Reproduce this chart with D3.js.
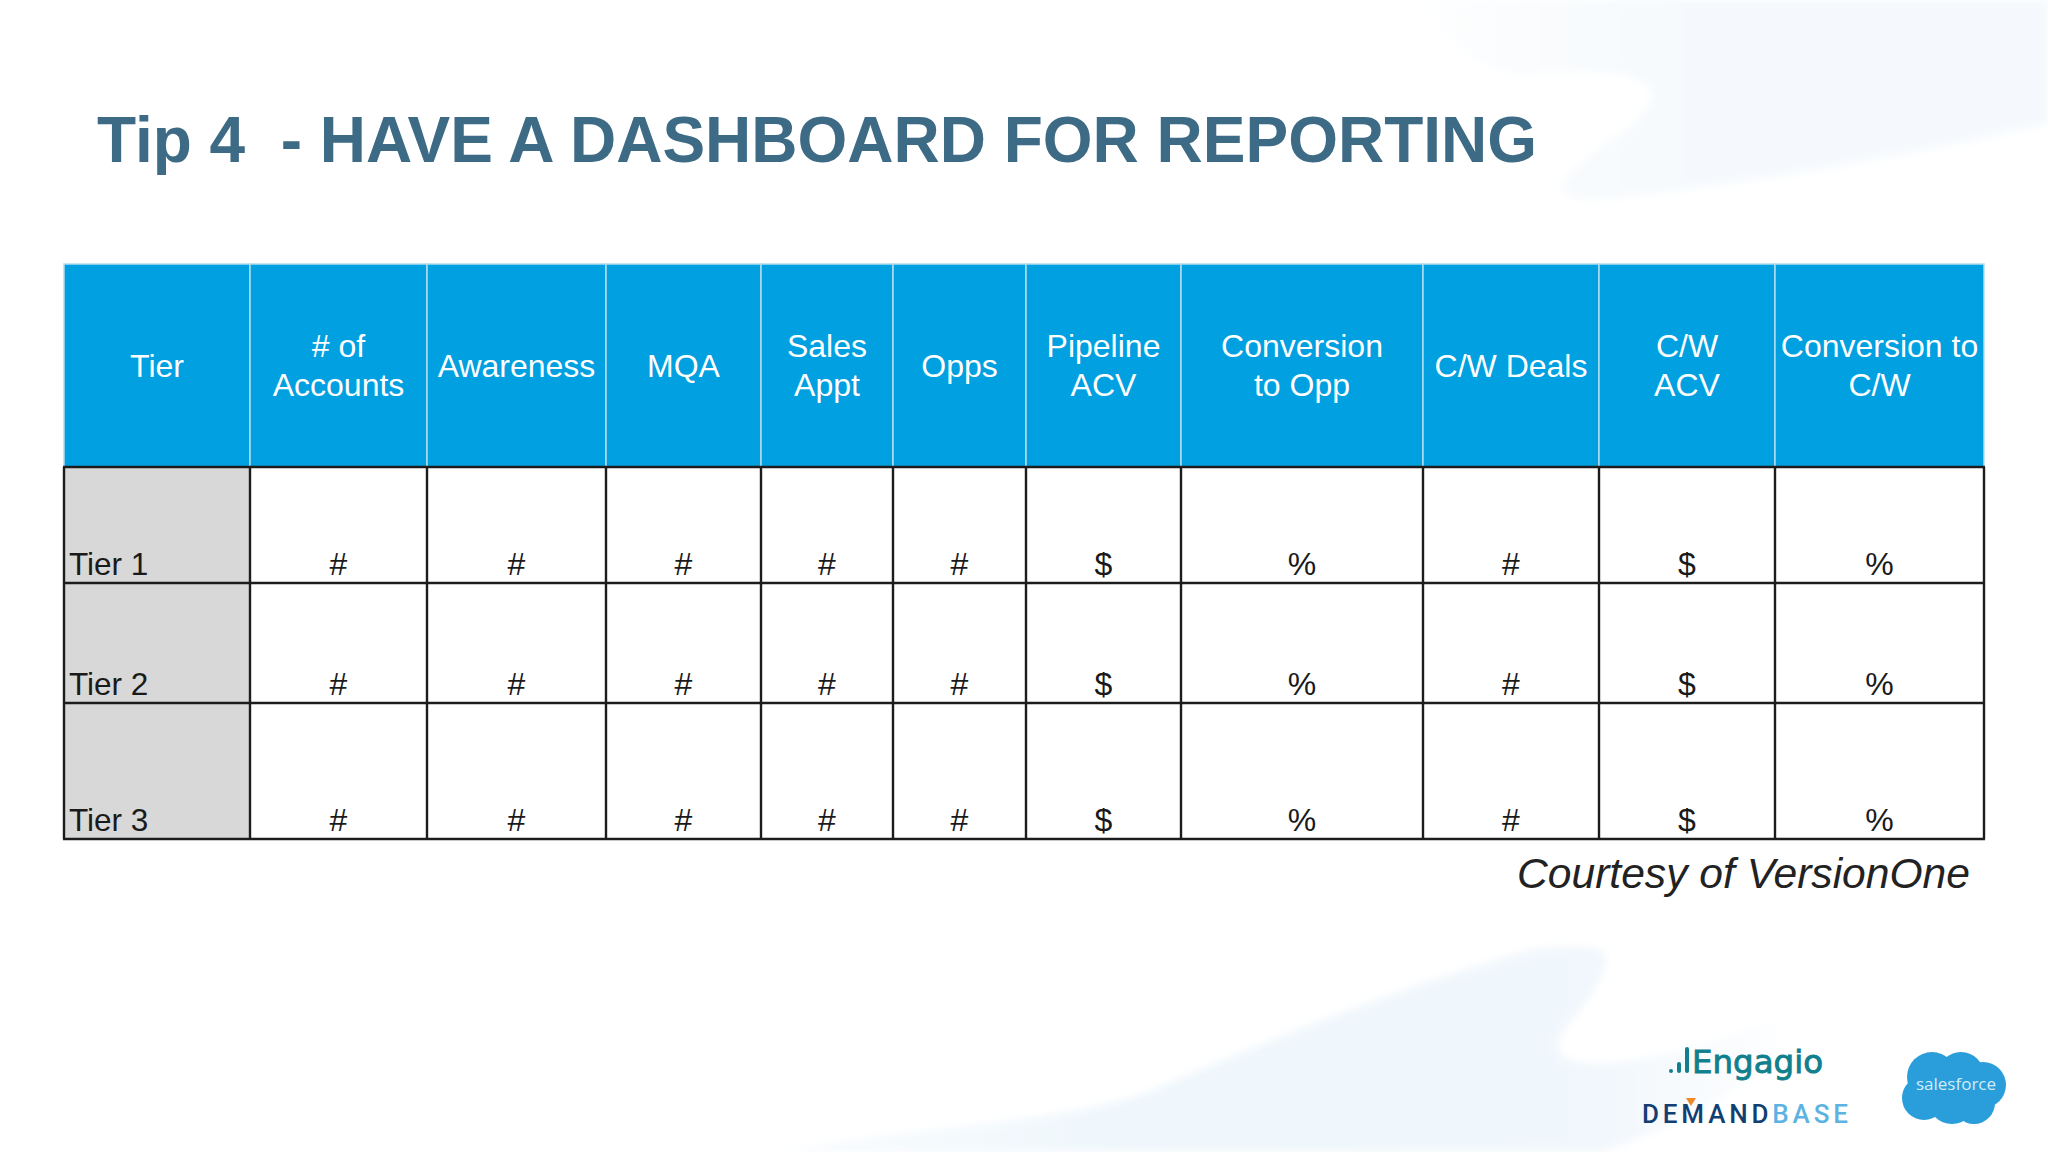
<!DOCTYPE html>
<html>
<head>
<meta charset="utf-8">
<script src="https://cdn.jsdelivr.net/npm/d3@7"></script>
<style>
  html, body { margin: 0; padding: 0; background: #fff; }
  svg { display: block; }
  text { font-family: "Liberation Sans", Arial, sans-serif; }
</style>
</head>
<body>
<svg id="slide" width="2048" height="1152"></svg>
<script>
// table content
const headers = ["Tier", "# of|Accounts", "Awareness", "MQA", "Sales|Appt", "Opps", "Pipeline|ACV", "Conversion|to Opp", "C/W Deals", "C/W|ACV", "Conversion to|C/W"];
const tiers = ["Tier 1", "Tier 2", "Tier 3"];
const tier1Cells = ["#", "#", "#", "#", "#", "$", "%", "#", "$", "%"];
const tier2Cells = ["#", "#", "#", "#", "#", "$", "%", "#", "$", "%"];
const tier3Cells = ["#", "#", "#", "#", "#", "$", "%", "#", "$", "%"];
const rowCells = [tier1Cells, tier2Cells, tier3Cells];

// layout of the grid
const colEdges = [64, 250, 427, 606, 761, 893, 1026, 1181, 1423, 1599, 1775, 1984];
const rowEdges = [467, 583, 703, 839];
const headerTop = 264;
const rowBaselines = [575, 695, 831];

const colIndex = d3.scaleLinear().domain(d3.range(colEdges.length)).range(colEdges);
const rowIndex = d3.scaleLinear().domain(d3.range(rowEdges.length)).range(rowEdges);
const colMid = i => (colIndex(i) + colIndex(i + 1)) / 2;

const svg = d3.select("#slide");

// pale swooshes in the background
const defs = svg.append("defs");
defs.append("filter").attr("id", "soft").append("feGaussianBlur").attr("stdDeviation", 4);
const bottomFade = defs.append("linearGradient").attr("id", "bottomFade")
  .attr("gradientUnits", "userSpaceOnUse").attr("x1", 783).attr("x2", 1800).attr("y1", 0).attr("y2", 0);
bottomFade.selectAll("stop").data([
  { o: 0, c: "#f8fbfe" }, { o: 0.35, c: "#eff7fc" }, { o: 0.8, c: "#f1f7fc" }, { o: 1, c: "#ffffff" }
]).join("stop").attr("offset", d => d.o).attr("stop-color", d => d.c);
const topFade = defs.append("linearGradient").attr("id", "topFade")
  .attr("gradientUnits", "userSpaceOnUse").attr("x1", 1400).attr("x2", 1700).attr("y1", 0).attr("y2", 0);
topFade.selectAll("stop").data([
  { o: 0, c: "#ffffff" }, { o: 0.6, c: "#f8fbfd" }, { o: 1, c: "#f5f9fd" }
]).join("stop").attr("offset", d => d.o).attr("stop-color", d => d.c);

const swooshes = [
  { d: "M1420,0 C1440,40 1480,70 1520,75 C1590,68 1640,72 1652,90 C1660,120 1575,155 1561,185 C1560,205 1600,202 1680,190 C1800,175 1930,150 2048,124 L2048,0 Z", fill: "url(#topFade)" },
  { d: "M783,1152 C900,1128 1050,1125 1146,1093 C1274,1037 1401,987 1529,950 C1560,945 1606,945 1606,955 C1606,990 1558,1030 1558,1043 C1560,1075 1620,1065 1700,1047 L1770,1020 C1820,1050 1700,1120 1600,1152 Z", fill: "url(#bottomFade)" }
];
svg.append("g").attr("filter", "url(#soft)")
  .selectAll("path").data(swooshes).join("path")
  .attr("d", d => d.d).attr("fill", d => d.fill);

// title
svg.append("text").attr("x", 97).attr("y", 162)
  .attr("font-size", 64).attr("font-weight", 700).attr("fill", "#3d6b85")
  .style("white-space", "pre")
  .text("Tip 4  - HAVE A DASHBOARD FOR REPORTING");

// header band
const head = svg.append("g");
head.selectAll("rect").data(headers).join("rect")
  .attr("x", (d, i) => colIndex(i)).attr("y", headerTop)
  .attr("width", (d, i) => colIndex(i + 1) - colIndex(i))
  .attr("height", rowIndex(0) - headerTop)
  .attr("fill", "#00a0e1").attr("stroke", "#b4dbee").attr("stroke-width", 1.5);

const headText = head.selectAll("text").data(headers).join("text")
  .attr("text-anchor", "middle").attr("font-size", 32).attr("fill", "#fff");
headText.each(function (d, i) {
  const lines = d.split("|");
  d3.select(this).selectAll("tspan").data(lines).join("tspan")
    .attr("x", colMid(i))
    .attr("y", (l, j) => lines.length === 1 ? 377 : 357 + j * 38.5)
    .text(l => l);
});

// tier column
const body = svg.append("g");
body.selectAll("rect.tier").data(tiers).join("rect").attr("class", "tier")
  .attr("x", colIndex(0)).attr("y", (d, i) => rowIndex(i))
  .attr("width", colIndex(1) - colIndex(0))
  .attr("height", (d, i) => rowIndex(i + 1) - rowIndex(i))
  .attr("fill", "#d8d8d8");
body.selectAll("text.tier").data(tiers).join("text").attr("class", "tier")
  .attr("x", 69).attr("y", (d, i) => rowBaselines[i])
  .attr("font-size", 31.5).attr("fill", "#1a1a1a").text(d => d);

// body cells
rowCells.forEach((cells, r) => {
  body.append("g").selectAll("text").data(cells).join("text")
    .attr("x", (d, i) => colMid(i + 1)).attr("y", rowBaselines[r])
    .attr("text-anchor", "middle").attr("font-size", 32).attr("fill", "#1a1a1a")
    .text(d => d);
});

// grid lines
const grid = svg.append("g").attr("stroke", "#1c1c1c").attr("stroke-width", 2.4);
grid.selectAll("line.h").data(rowEdges).join("line").attr("class", "h")
  .attr("x1", colEdges[0] - 1).attr("x2", colEdges[colEdges.length - 1] + 1)
  .attr("y1", d => d).attr("y2", d => d);
grid.selectAll("line.v").data(colEdges).join("line").attr("class", "v")
  .attr("x1", d => d).attr("x2", d => d)
  .attr("y1", rowEdges[0]).attr("y2", rowEdges[rowEdges.length - 1]);

// credit
svg.append("text").attr("x", 1970).attr("y", 888).attr("text-anchor", "end")
  .attr("font-size", 42.6).attr("font-style", "italic").attr("fill", "#222")
  .text("Courtesy of VersionOne");

// logos
const engagio = svg.append("g").attr("fill", "#10808e");
engagio.append("text").attr("x", 1692).attr("y", 1073)
  .style("font-family", "'DejaVu Sans', sans-serif").attr("font-size", 32)
  .attr("stroke", "#10808e").attr("stroke-width", 0.9)
  .attr("textLength", 131).attr("lengthAdjust", "spacingAndGlyphs")
  .text("Engagio");
engagio.selectAll("rect").data([
  { x: 1669, y: 1069, w: 4, h: 4 }, { x: 1677, y: 1062, w: 4, h: 11 }, { x: 1685, y: 1047, w: 4, h: 26 }
]).join("rect").attr("x", d => d.x).attr("y", d => d.y).attr("width", d => d.w).attr("height", d => d.h).attr("rx", 2);

const demand = svg.append("text").attr("x", 1642).attr("y", 1123)
  .style("font-family", "Roboto, sans-serif").attr("font-size", 26).attr("font-weight", 500)
  .attr("textLength", 206).attr("lengthAdjust", "spacing");
demand.append("tspan").attr("fill", "#123f72").text("DEMAND");
demand.append("tspan").attr("fill", "#5cb3e2").text("BASE");
svg.append("path").attr("d", "M1686,1098 L1696,1098 L1691,1106 Z").attr("fill", "#ee8a2c");

const cloudBlobs = [
  { x: 1932, y: 1077, r: 25 }, { x: 1961, y: 1075, r: 23 }, { x: 1983, y: 1085, r: 23 },
  { x: 1924, y: 1098, r: 22 }, { x: 1952, y: 1100, r: 24 }, { x: 1974, y: 1103, r: 21 }
];
svg.append("g").selectAll("circle").data(cloudBlobs).join("circle")
  .attr("cx", d => d.x).attr("cy", d => d.y).attr("r", d => d.r).attr("fill", "#2a9eda");
svg.append("text").attr("x", 1956).attr("y", 1090).attr("text-anchor", "middle")
  .attr("font-size", 17).attr("font-weight", 400).attr("fill", "#d2ecf9")
  .style("font-family", "'Open Sans', sans-serif").text("salesforce");
</script>
</body>
</html>
